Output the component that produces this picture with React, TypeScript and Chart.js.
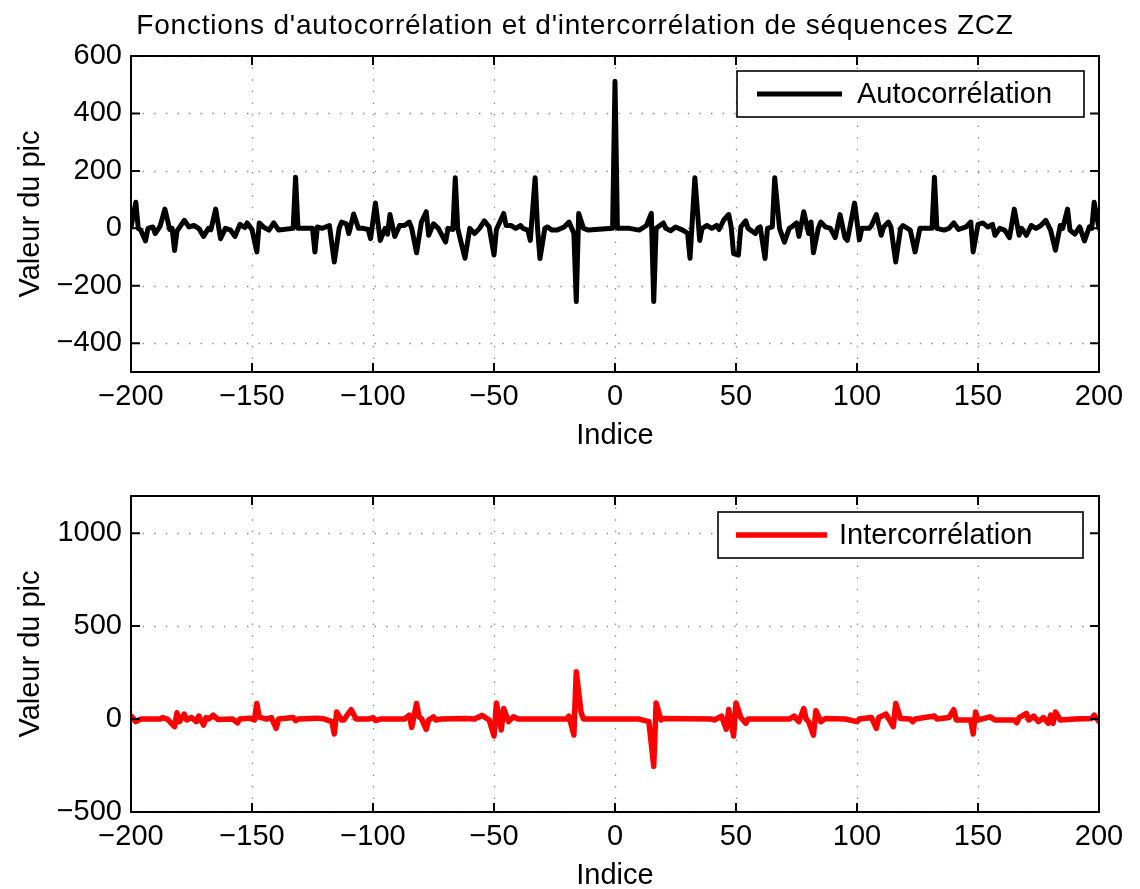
import React, { useEffect, useRef } from 'react';
import { Chart, registerables } from 'chart.js';

Chart.register(...registerables);

const TITLE = "Fonctions d'autocorrélation et d'intercorrélation de séquences ZCZ";
const X_LABEL = 'Indice';
const Y_LABEL = 'Valeur du pic';
const AUTO_LABEL = 'Autocorrélation';
const INTER_LABEL = 'Intercorrélation';

const X_TICKS = [-200, -150, -100, -50, 0, 50, 100, 150, 200];
const Y_TICKS_TOP = [-400, -200, 0, 200, 400, 600];
const Y_TICKS_BOTTOM = [-500, 0, 500, 1000];

const autoIndex = [
  -200, -198, -197, -196, -194, -193, -191, -190, -188, -186,
  -184, -183, -182, -181, -178, -176, -174, -172, -170, -168,
  -167, -165, -163, -161, -159, -157, -155, -153, -152, -150,
  -148, -147, -145, -143, -141, -139, -133, -132, -131, -125,
  -124, -123, -121, -118, -116, -114, -113, -111, -110, -108,
  -106, -104, -102, -101, -99, -97, -95, -94, -93, -91,
  -89, -87, -85, -84, -82, -80, -78, -77, -75, -73,
  -70, -69, -67, -66, -65, -62, -60, -58, -56, -54,
  -52, -50, -49, -46, -45, -43, -41, -39, -38, -36,
  -35, -33, -32, -31, -29, -28, -26, -24, -21, -19,
  -17, -16, -15, -13, -11, -1, 0, 1, 6, 10,
  13, 15, 16, 17, 20, 21, 23, 25, 28, 30,
  31, 33, 35, 36, 38, 40, 42, 43, 45, 47,
  48, 49, 51, 52, 54, 55, 58, 59, 60, 62,
  63, 65, 66, 68, 70, 72, 73, 75, 76, 78,
  80, 81, 82, 84, 85, 87, 89, 91, 93, 95,
  96, 97, 99, 101, 102, 105, 106, 108, 110, 111,
  113, 114, 116, 118, 119, 122, 124, 126, 131, 132,
  133, 136, 138, 140, 142, 145, 147, 148, 150, 152,
  154, 156, 157, 159, 161, 163, 165, 167, 168, 170,
  172, 174, 176, 178, 180, 182, 184, 185, 187, 188,
  190, 192, 194, 196, 197, 198, 200,
];
const autoValue = [
  5, 91, 0, -6, -44, 0, 5, -18, 7, 67,
  -4, 0, -77, -10, 28, 5, 10, 0, -28, 0,
  -5, 67, -36, 0, -5, -28, 14, 3, 19, -4,
  -82, 19, 3, -6, 19, -6, 0, 178, 0, 0,
  -82, 5, 0, 10, -117, 0, 22, 16, -18, 50,
  0, 0, -4, -36, 88, -42, 0, -20, 48, -28,
  10, 10, 22, 0, -85, 22, 58, -24, 16, 0,
  -48, 0, -4, 176, 0, -104, 0, -18, 0, 26,
  5, -93, -4, 52, 10, 10, 0, 10, 0, -6,
  -42, 176, 0, -105, 0, 5, -6, -6, 5, 22,
  -17, -255, 52, 0, -6, 0, 512, 0, 0, -6,
  10, 52, -255, 0, 19, 0, -8, 5, -6, -17,
  -104, 176, -42, 0, 10, 0, 10, -4, 30, 48,
  5, -88, -93, 5, 26, 0, -18, 0, 5, -105,
  0, 5, 176, 0, -48, 0, 5, 19, -28, 58,
  -18, 22, -85, 0, 22, 5, 0, -32, 48, -32,
  -42, 0, 88, -40, 0, 0, 10, 48, -24, 5,
  22, 5, -117, 0, 10, -6, -82, 0, 0, 178,
  0, -6, 0, 19, -4, 5, 22, -82, 14, 19,
  5, 14, -24, 0, -6, -32, 67, -24, 0, -24,
  10, 0, 10, 28, -6, -76, 10, 0, 67, -6,
  -20, 5, -44, 5, 0, 91, 0,
];

const interIndex = [
  -200, -198, -196, -188, -187, -185, -182, -181, -180, -178,
  -177, -175, -173, -172, -170, -169, -168, -166, -164, -158,
  -156, -155, -151, -149, -148, -147, -144, -142, -140, -139,
  -133, -132, -131, -123, -120, -117, -116, -115, -113, -112,
  -111, -109, -107, -102, -100, -99, -97, -87, -85, -84,
  -82, -81, -80, -78, -77, -75, -74, -72, -62, -58,
  -55, -52, -50, -49, -47, -46, -44, -42, -40, -20,
  -19, -17, -16, -14, -13, 10, 14, 16, 17, 19,
  20, 40, 41, 44, 46, 47, 49, 50, 52, 54,
  55, 72, 74, 76, 78, 79, 80, 82, 83, 85,
  87, 95, 100, 101, 106, 108, 109, 112, 115, 116,
  118, 122, 123, 124, 132, 133, 138, 140, 141, 147,
  148, 149, 150, 155, 157, 165, 166, 167, 170, 171,
  173, 175, 177, 179, 180, 181, 182, 184, 190, 197,
  198, 200,
];
const interValue = [
  16, -14, 0, 0, 8, 0, -41, 34, -14, 27,
  -5, 8, -14, 16, -32, 8, 0, 21, -3, 0,
  -20, 0, 5, -5, 84, 10, 0, 8, -50, 0,
  8, -8, 0, 5, 0, -14, -80, 38, -5, -5,
  16, 50, 0, 0, 8, -8, 0, 0, 21, -45,
  84, 12, 3, -55, -5, 12, -5, 0, 3, 0,
  20, -5, -91, 87, -59, 57, -14, 12, 0, 0,
  16, -86, 255, 34, 0, 0, -14, -255, 87, -5,
  3, 0, -5, 16, -55, 52, -91, 87, 8, -23,
  0, 0, 16, -14, 57, 0, -14, -86, 45, -14,
  3, 0, -14, 0, 8, -50, 8, 27, -41, 84,
  3, 0, -14, 0, 16, 0, 8, 50, -5, -5,
  -80, 38, -5, 12, -5, -5, -20, 8, 30, -5,
  16, -14, 8, -23, 21, -23, 38, -5, 0, 3,
  21, -14,
];

const FONT = '"Liberation Sans", Arial, Helvetica, sans-serif';
const W = 1140;

const fmt = (v: number) => (v < 0 ? '\u2212' + Math.abs(v) : String(v));

const framePlugin = {
  id: 'matlabFrame',
  beforeDatasetsDraw(chart: any) {
    const { ctx, chartArea: a, scales } = chart;
    const x = scales.x;
    const y = scales.y;
    ctx.save();
    ctx.strokeStyle = '#8c8c8c';
    ctx.lineWidth = 1.3;
    ctx.setLineDash([1.5, 10.1]);
    for (const t of x.ticks) {
      const px = Math.round(x.getPixelForValue(t.value)) + 0.5;
      ctx.beginPath();
      ctx.moveTo(px, a.top);
      ctx.lineTo(px, a.bottom);
      ctx.stroke();
    }
    for (const t of y.ticks) {
      const py = Math.round(y.getPixelForValue(t.value)) + 0.5;
      ctx.beginPath();
      ctx.moveTo(a.left, py);
      ctx.lineTo(a.right, py);
      ctx.stroke();
    }
    ctx.restore();
  },
  afterDatasetsDraw(chart: any, _args: any, opts: any) {
    const { ctx, chartArea: a, scales } = chart;
    const x = scales.x;
    const y = scales.y;
    const tl = 9;
    ctx.save();
    ctx.strokeStyle = '#000';
    ctx.lineWidth = 2;
    ctx.setLineDash([]);
    ctx.strokeRect(a.left, a.top, a.right - a.left, a.bottom - a.top);
    ctx.beginPath();
    for (const t of x.ticks) {
      const px = x.getPixelForValue(t.value);
      ctx.moveTo(px, a.bottom);
      ctx.lineTo(px, a.bottom - tl);
      ctx.moveTo(px, a.top);
      ctx.lineTo(px, a.top + tl);
    }
    for (const t of y.ticks) {
      const py = y.getPixelForValue(t.value);
      ctx.moveTo(a.left, py);
      ctx.lineTo(a.left + tl, py);
      ctx.moveTo(a.right, py);
      ctx.lineTo(a.right - tl, py);
    }
    ctx.stroke();

    // legend box
    const ds = chart.data.datasets[0];
    const bx = a.right - opts.inset - opts.boxWidth;
    const by = a.top + opts.inset;
    const bh = opts.boxHeight;
    ctx.fillStyle = '#fff';
    ctx.fillRect(bx, by, opts.boxWidth, bh);
    ctx.lineWidth = 1.6;
    ctx.strokeStyle = '#000';
    ctx.strokeRect(bx, by, opts.boxWidth, bh);
    const cy = by + bh / 2;
    ctx.beginPath();
    ctx.strokeStyle = ds.borderColor;
    ctx.lineWidth = ds.borderWidth;
    ctx.moveTo(bx + opts.padLeft, cy);
    ctx.lineTo(bx + opts.padLeft + opts.lineLen, cy);
    ctx.stroke();
    ctx.fillStyle = '#000';
    ctx.font = '29px ' + FONT;
    ctx.textAlign = 'left';
    ctx.textBaseline = 'middle';
    ctx.fillText(ds.label, bx + opts.padLeft + opts.lineLen + opts.gap, cy + 1);

    // figure title
    if (opts.title) {
      ctx.font = '28px ' + FONT;
      ctx.textAlign = 'center';
      ctx.textBaseline = 'middle';
      if ('letterSpacing' in ctx) (ctx as any).letterSpacing = '0.8px';
      ctx.fillText(opts.title, 575, 26);
      if ('letterSpacing' in ctx) (ctx as any).letterSpacing = '0px';
    }
    ctx.restore();
  },
};

function makeConfig(p: any) {
  const tickFont = { family: FONT, size: 29 };
  return {
    type: 'line',
    data: {
      datasets: [
        {
          label: p.label,
          data: p.xs.map((xv: number, i: number) => ({ x: xv, y: p.ys[i] })),
          borderColor: p.color,
          borderWidth: p.lineWidth,
          pointRadius: 0,
          tension: 0,
          borderJoinStyle: 'round',
          borderCapStyle: 'round',
          fill: false,
        },
      ],
    },
    options: {
      animation: false,
      responsive: false,
      devicePixelRatio: 1,
      layout: { padding: { left: 0, right: 41, top: p.padTop, bottom: 0 } },
      plugins: {
        legend: { display: false },
        tooltip: { enabled: false },
        title: { display: false },
        matlabFrame: { ...p.legend, title: p.title },
      },
      scales: {
        x: {
          type: 'linear',
          min: -200,
          max: 200,
          afterBuildTicks: (s: any) => {
            s.ticks = X_TICKS.map((v) => ({ value: v }));
          },
          afterFit: (s: any) => {
            s.height = p.xAxisHeight;
          },
          grid: { display: false, drawTicks: false },
          border: { display: false },
          ticks: {
            color: '#000',
            font: tickFont,
            padding: 8,
            maxRotation: 0,
            autoSkip: false,
            callback: (v: any) => fmt(Number(v)),
          },
          title: {
            display: true,
            text: X_LABEL,
            color: '#000',
            font: { family: FONT, size: 29, lineHeight: p.xTitleLH },
            padding: { top: p.xTitlePad, bottom: p.xTitlePad },
          },
        },
        y: {
          type: 'linear',
          min: p.yMin,
          max: p.yMax,
          afterBuildTicks: (s: any) => {
            s.ticks = p.yTicks.map((v: number) => ({ value: v }));
          },
          afterFit: (s: any) => {
            s.width = 131;
          },
          grid: { display: false, drawTicks: false },
          border: { display: false },
          ticks: {
            color: '#000',
            font: tickFont,
            padding: 9,
            autoSkip: false,
            callback: (v: any) => fmt(Number(v)),
          },
          title: {
            display: true,
            text: Y_LABEL,
            color: '#000',
            font: { family: FONT, size: 29, lineHeight: 1 },
            padding: { top: 16, bottom: 16 },
          },
        },
      },
    },
    plugins: [framePlugin],
  };
}

const TOP_H = 455;
const BOTTOM_H = 889 - TOP_H;

export default function App() {
  const topRef = useRef<HTMLCanvasElement>(null);
  const botRef = useRef<HTMLCanvasElement>(null);

  useEffect(() => {
    const c1 = new Chart(
      topRef.current as HTMLCanvasElement,
      makeConfig({
        label: AUTO_LABEL,
        xs: autoIndex,
        ys: autoValue,
        color: '#000000',
        lineWidth: 5,
        padTop: 56,
        title: TITLE,
        yMin: -500,
        yMax: 600,
        yTicks: Y_TICKS_TOP,
        xAxisHeight: TOP_H - 372,
        xTitlePad: 5,
        xTitleLH: 1,
        legend: { inset: 15, boxWidth: 347, boxHeight: 46, padLeft: 20, lineLen: 85, gap: 15 },
      }) as any
    );
    const c2 = new Chart(
      botRef.current as HTMLCanvasElement,
      makeConfig({
        label: INTER_LABEL,
        xs: interIndex,
        ys: interValue,
        color: '#ff0000',
        lineWidth: 5.5,
        padTop: 496 - TOP_H,
        title: null,
        yMin: -500,
        yMax: 1200,
        yTicks: Y_TICKS_BOTTOM,
        xAxisHeight: BOTTOM_H - (812 - TOP_H),
        xTitlePad: 0,
        xTitleLH: 0.9,
        legend: { inset: 16, boxWidth: 365, boxHeight: 46, padLeft: 18, lineLen: 91, gap: 12 },
      }) as any
    );
    return () => {
      c1.destroy();
      c2.destroy();
    };
  }, []);

  return (
    <div style={{ position: 'absolute', left: 0, top: 0, width: W, height: 889, background: '#fff' }}>
      <canvas
        ref={topRef}
        width={W}
        height={TOP_H}
        style={{ position: 'absolute', left: 0, top: 0, width: W, height: TOP_H, display: 'block' }}
      />
      <canvas
        ref={botRef}
        width={W}
        height={BOTTOM_H}
        style={{ position: 'absolute', left: 0, top: TOP_H, width: W, height: BOTTOM_H, display: 'block' }}
      />
    </div>
  );
}
